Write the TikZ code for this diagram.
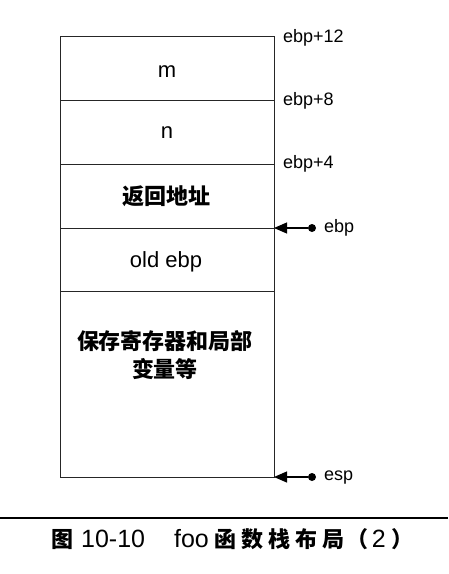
\documentclass[tikz,border=0pt]{standalone}
\usepackage{fontspec}
\setmainfont{Liberation Sans}
\newfontfamily\cjk{Noto Sans CJK SC}
\usetikzlibrary{arrows.meta}
\tikzset{
  cell/.style={font=\fontsize{22}{28}\selectfont, align=center, anchor=base, inner sep=0pt},
  addr/.style={font=\fontsize{18}{20}\selectfont, anchor=base west, inner sep=0pt},
  ptr/.style={-{Triangle[length=13pt,width=11pt]}, line width=1.1pt},
  frame/.style={line width=0.8pt, black!85},
  dot/.style={circle, fill, inner sep=0pt, minimum size=8pt},
}
\newcommand\capzh{\cjk\bfseries\fontsize{22}{26}\selectfont}
\begin{document}
\begin{tikzpicture}[x=1pt,y=-1pt]
   \useasboundingbox (0,0) rectangle (448,574);
   % stack frame
   \draw[frame] (60,36) rectangle (274,477);
   \foreach \y in {100,164,228,291}
      \draw[frame] (60,\y) -- (274,\y);
   % cell contents
   \node[cell] (m) at (167,77) {m};
   \node[cell] (n) at (167,138) {n};
   \node[cell] (ret) at (166,204) {\cjk\bfseries 返回地址};
   \node[cell] (oldebp) at (166,267) {old ebp};
   \node[cell] (locals) at (165,377) {\cjk\bfseries 保存寄存器和局部\\\cjk\bfseries 变量等};
   % addresses
   \node[addr] (a12) at (283,42) {ebp+12};
   \node[addr] (a8) at (283,105) {ebp+8};
   \node[addr] (a4) at (283,168) {ebp+4};
   % pointers
   \coordinate (ebptip) at (274,228);
   \coordinate (esptip) at (274,477);
   \node[dot] (ebpdot) at (312,228) {};
   \node[dot] (espdot) at (312,477) {};
   \node[addr] (ebp) at (324,232) {ebp};
   \node[addr] (esp) at (324,480) {esp};
   \draw[ptr] (ebpdot) -- (ebptip);
   \draw[ptr] (espdot) -- (esptip);
   % caption
   \coordinate (rulel) at (0,518);
   \coordinate (ruler) at (448,518);
   \draw[line width=1.5pt] (rulel) -- (ruler);
   \node[anchor=base west, inner sep=0pt, font=\fontsize{25}{26}\selectfont] (cap) at (51,547)
      {{\capzh 图}\hspace{8pt}10-10\hspace{29pt}foo\hspace{6pt}{\capzh
       函\hspace{5pt}数\hspace{5pt}栈\hspace{5pt}布\hspace{5pt}局\hspace{2pt}（\hspace{3pt}}2{\capzh\hspace{6pt}）}};
\end{tikzpicture}
\end{document}
